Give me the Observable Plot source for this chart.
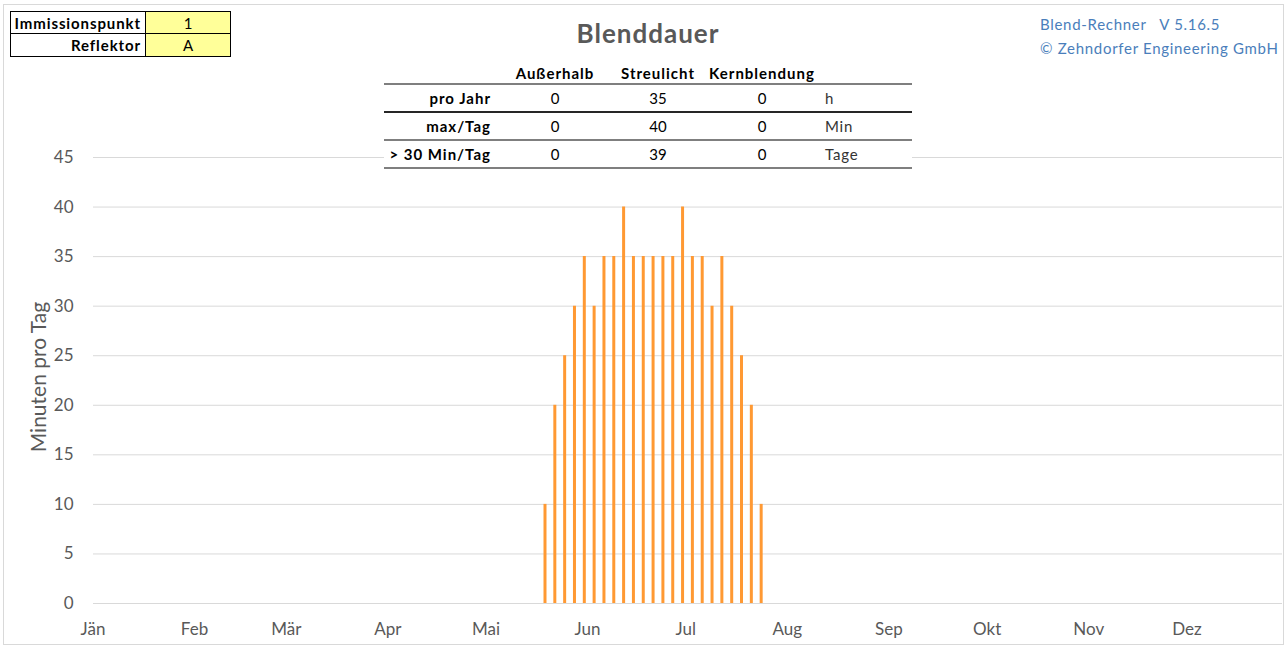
<!DOCTYPE html>
<html><head><meta charset="utf-8">
<script src="https://cdn.jsdelivr.net/npm/d3@7"></script>
<script src="https://cdn.jsdelivr.net/npm/@observablehq/plot@0.6"></script>
<style>
body{margin:0;background:#fff;font-family:Lato,"Open Sans",sans-serif;}
#wrap{position:relative;width:1287px;height:648px;overflow:hidden;background:#fff;}
#wrap svg{position:absolute;left:0;top:0;}
.abs{position:absolute;white-space:pre;}
</style></head><body><div id="wrap"></div>
<script>
// ---- data ----
const dates = ["2023-05-19","2023-05-22","2023-05-25","2023-05-28","2023-05-31","2023-06-03","2023-06-06","2023-06-09","2023-06-12","2023-06-15","2023-06-18","2023-06-21","2023-06-24","2023-06-27","2023-06-30","2023-07-03","2023-07-06","2023-07-09","2023-07-12","2023-07-15","2023-07-18","2023-07-21","2023-07-24"];
const minutes = [10,20,25,30,35,30,35,35,40,35,35,35,35,35,40,35,35,30,35,30,25,20,10];
const monthLabels = ["Jän","Feb","Mär","Apr","Mai","Jun","Jul","Aug","Sep","Okt","Nov","Dez"];
const yTicks = [0,5,10,15,20,25,30,35,40,45];
const yLabel = "Minuten pro Tag";
const title = "Blenddauer";
const infoLabels = ["Immissionspunkt","Reflektor"];
const infoValues = ["1","A"];
const credits = ["Blend-Rechner   V 5.16.5","© Zehndorfer Engineering GmbH"];
const statCols = ["Außerhalb","Streulicht","Kernblendung"];
const statRows = ["pro Jahr","max/Tag","> 30 Min/Tag"];
const statValues = [[0,35,0],[0,40,0],[0,39,0]];
const statUnits = ["h","Min","Tage"];

// ---- chart ----
const data = dates.map((d,i)=>({date:new Date(d+"T00:00:00Z"), value:minutes[i]}));
const monthStarts = monthLabels.map((m,i)=>new Date(Date.UTC(2023,i,1)));
const grey = "#595959";

const chart = Plot.plot({
  width:1287, height:648,
  marginLeft:93, marginRight:5, marginTop:157, marginBottom:45,
  style:{fontFamily:"Lato, sans-serif", fontSize:"17px", color:grey, background:"transparent"},
  x:{type:"utc", domain:[new Date(Date.UTC(2023,0,1)), new Date(Date.UTC(2024,0,1))], range:[92.5,1288]},
  y:{domain:[0,45], range:[603,157]},
  marks:[
    Plot.ruleY(yTicks,{stroke:"#d9d9d9", strokeWidth:1}),
    Plot.ruleX(data,{x:"date", y1:0, y2:"value", stroke:"#FF9933", strokeWidth:3}),
    Plot.axisY({ticks:yTicks, tickSize:0, tickPadding:20, label:null, fill:grey, fontSize:17}),
    Plot.axisX({ticks:monthStarts, tickSize:0, tickPadding:19, label:null, fill:grey, fontSize:17,
      tickFormat:d=>monthLabels[d.getUTCMonth()]})
  ]
});
const wrap = document.getElementById("wrap");
wrap.appendChild(chart);

function add(tag, css, text){
  const el = document.createElement(tag);
  el.className = "abs";
  el.style.cssText += css;
  if(text!==undefined) el.textContent = text;
  wrap.appendChild(el);
  return el;
}
// y axis title (rotated)
add("div",`left:${37.5-100}px;top:${377-15}px;width:200px;height:30px;line-height:30px;text-align:center;font-size:21px;color:${grey};transform:rotate(-90deg);transform-origin:50% 50%;`, yLabel);
// outer frame
add("div","left:3px;top:4px;width:1279px;height:639px;border:1px solid #d9d9d9;");
// title
add("div",`left:498px;width:300px;top:13px;height:40px;line-height:40px;text-align:center;font-size:26px;font-weight:bold;letter-spacing:1px;color:${grey};`, title);
// credits
credits.forEach((t,i)=>add("div",`left:1040px;top:${12+i*24}px;height:24px;line-height:24px;font-size:15px;letter-spacing:0.7px;color:#4a7ebb;`, t));
// info table
infoLabels.forEach((t,i)=>{
  const top = 11+i*23;
  add("div",`left:10px;top:${top}px;width:136px;height:23px;box-sizing:border-box;border:1px solid #000;${i>0?"border-top:none;":""}line-height:22px;text-align:right;padding-right:4px;font-size:15px;font-weight:bold;letter-spacing:0.9px;color:#000;`, t);
  add("div",`left:145px;top:${top}px;width:86px;height:23px;box-sizing:border-box;border:1px solid #000;${i>0?"border-top:none;":""}background:#FFFF99;line-height:22px;text-align:center;font-size:15px;color:#000;`, infoValues[i]);
});
// stats table
add("div","left:384px;top:62px;width:528px;height:107px;background:#fff;");
const colCenters = [555,658,762];
statCols.forEach((c,j)=>add("div",`left:${colCenters[j]-60}px;width:120px;top:62px;height:22px;line-height:22px;text-align:center;font-size:15px;font-weight:bold;letter-spacing:1px;color:#000;`, c));
const lineStyles = [["1.5px","#7f7f7f"],["2px","#262626"],["1.5px","#7f7f7f"],["1.5px","#7f7f7f"]];
[84,112,140,168].forEach((y,k)=>add("div",`left:384px;width:528px;top:${y-1}px;height:${lineStyles[k][0]};background:${lineStyles[k][1]};`));
statRows.forEach((r,i)=>{
  const top = 84+i*28;
  add("div",`left:384px;width:107px;top:${top}px;height:28px;line-height:28px;text-align:right;font-size:15px;font-weight:bold;letter-spacing:1px;color:#000;`, r);
  statValues[i].forEach((v,j)=>add("div",`left:${colCenters[j]-40}px;width:80px;top:${top}px;height:28px;line-height:28px;text-align:center;font-size:15px;color:#000;`, String(v)));
  add("div",`left:825px;top:${top}px;height:28px;line-height:28px;font-size:15px;letter-spacing:0.8px;color:#333;`, statUnits[i]);
});
</script>
</body></html>
